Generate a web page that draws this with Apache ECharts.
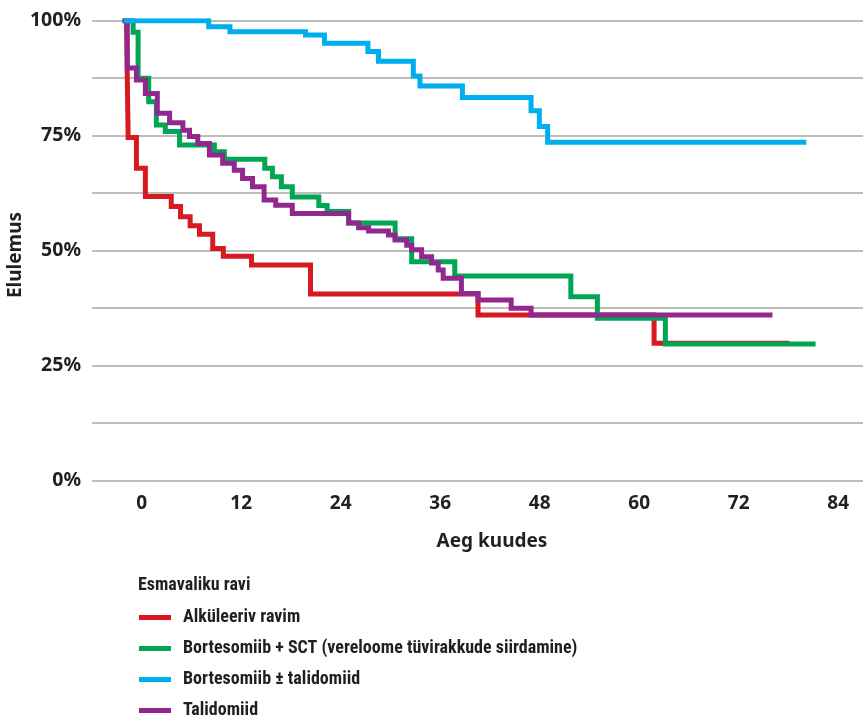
<!DOCTYPE html>
<html>
<head>
<meta charset="utf-8">
<script src="https://cdn.jsdelivr.net/npm/echarts@6/dist/echarts.min.js"></script>
<style>
html,body{margin:0;padding:0;background:#fff;}
#chart{width:866px;height:720px;}
</style>
</head>
<body>
<div id="chart"></div>
<script>
// ---- data (months, survival %) ----
const seriesNames = [
  'Alküleeriv ravim',
  'Bortesomiib + SCT (vereloome tüvirakkude siirdamine)',
  'Bortesomiib ± talidomiid',
  'Talidomiid'
];
const redMonths = [-1.84, -1.64, -0.64, 0.44, 3.56, 4.68, 5.84, 6.96, 8.56, 9.84, 13.24, 20.36, 40.56, 61.8, 78.12];
const redSurv   = [100, 74.6, 67.9, 61.8, 59.6, 57.4, 55.4, 53.6, 50.5, 48.8, 46.9, 40.6, 36.0, 29.9, 29.9];

const greenMonths = [-2.3, -1.04, -0.44, 0.84, 1.76, 2.84, 4.56, 8.76, 9.96, 14.84, 15.76, 16.84, 18.16, 21.36, 22.36, 24.96, 30.56, 32.56, 37.76, 51.76, 54.96, 63.16, 81.28];
const greenSurv   = [100, 97.5, 87.5, 82.4, 77.3, 75.9, 73.0, 71.5, 69.9, 67.9, 66.1, 63.9, 61.7, 59.8, 58.5, 56.0, 52.6, 47.6, 44.5, 40.0, 35.3, 29.7, 29.7];

const blueMonths = [-2.16, 8.08, 10.64, 19.76, 22.04, 27.28, 28.56, 32.76, 33.56, 38.68, 46.96, 47.96, 48.96, 80.16];
const blueSurv   = [100, 98.7, 97.6, 96.9, 95.1, 93.3, 91.2, 88.0, 85.8, 83.3, 80.4, 77.0, 73.6, 73.6];

const purpleMonths = [-2.32, -1.74, -0.64, 0.44, 1.88, 3.36, 4.96, 5.76, 6.76, 8.16, 9.76, 11.16, 12.16, 13.36, 14.76, 16.16, 18.16, 24.96, 26.16, 27.36, 29.76, 30.56, 31.96, 32.56, 33.76, 34.96, 35.76, 36.36, 38.56, 40.56, 44.56, 46.96, 76.08];
const purpleSurv   = [100, 89.7, 87.1, 84.2, 79.9, 77.8, 76.2, 74.8, 73.3, 70.8, 69.0, 67.5, 65.7, 63.9, 61.0, 59.9, 58.1, 56.0, 55.0, 54.3, 53.4, 52.3, 51.2, 50.2, 48.7, 47.3, 45.8, 44.0, 40.7, 39.3, 37.5, 36.0, 36.0];

const xTickLabels = [0, 12, 24, 36, 48, 60, 72, 84];
const yTickLabels = [0, 25, 50, 75, 100];
const legendTitle = 'Esmavaliku ravi';
const xAxisTitle = 'Aeg kuudes';
const yAxisTitle = 'Elulemus';

// ---- styling ----
const colors = ['#d71920', '#00a651', '#00aeef', '#92278f'];
const zOrder = [2, 3, 5, 4];
const textColor = '#231f20';

function hasFont(name) {
  const c = document.createElement('canvas').getContext('2d');
  const s = 'Bortesomiib mmm WWW iii';
  c.font = 'bold 40px monospace';
  const w1 = c.measureText(s).width;
  c.font = 'bold 40px "' + name + '", monospace';
  const w2 = c.measureText(s).width;
  return Math.abs(w1 - w2) > 0.5;
}
let legendFamily = '"Noto Sans", sans-serif';
let legendSize = 15.2;
if (hasFont('Liberation Sans Narrow')) { legendFamily = '"Liberation Sans Narrow", sans-serif'; legendSize = 18.5; }
else if (hasFont('Roboto Condensed')) { legendFamily = '"Roboto Condensed", sans-serif'; legendSize = 18; }
const axisFamily = '"Noto Sans", sans-serif';

function pairs(xs, ys) { return xs.map((x, i) => [x, ys[i]]); }
const allData = [
  pairs(redMonths, redSurv),
  pairs(greenMonths, greenSurv),
  pairs(blueMonths, blueSurv),
  pairs(purpleMonths, purpleSurv)
];

const chart = echarts.init(document.getElementById('chart'), null, {renderer: 'canvas'});
chart.setOption({
  animation: false,
  backgroundColor: '#ffffff',
  grid: {left: 92, right: 0, top: 20.7, bottom: 239.3, containLabel: false},
  xAxis: {
    type: 'value', min: -6, max: 87, interval: 6,
    axisLine: {show: false}, axisTick: {show: false}, splitLine: {show: false},
    axisLabel: {
      margin: 13, color: textColor, fontFamily: axisFamily, fontWeight: 'bold', fontSize: 19,
      showMinLabel: true, showMaxLabel: true,
      formatter: v => xTickLabels.indexOf(v) >= 0 ? String(v) : ''
    }
  },
  yAxis: {
    type: 'value', min: 0, max: 100, interval: 12.5,
    axisLine: {show: false}, axisTick: {show: false},
    splitLine: {show: true, lineStyle: {color: '#a7a7a7', width: 1.6}},
    axisLabel: {
      margin: 11, color: textColor, fontFamily: axisFamily, fontWeight: 'bold', fontSize: 19.5,
      formatter: v => yTickLabels.indexOf(v) >= 0 ? v + '%' : ''
    }
  },
  legend: {
    data: seriesNames,
    orient: 'vertical',
    left: 139, top: 608.5, height: 111.5,
    padding: 0,
    icon: 'rect', itemWidth: 32, itemHeight: 5, itemGap: 13,
    selectedMode: false,
    textStyle: {color: textColor, fontFamily: legendFamily, fontWeight: 'bold', fontSize: legendSize, lineHeight: 18, padding: [0, 0, 0, 7]}
  },
  graphic: [
    {type: 'text', x: 492, y: 542, style: {text: xAxisTitle, fill: textColor, font: 'bold 19px ' + axisFamily, textAlign: 'center', textVerticalAlign: 'middle'}},
    {type: 'text', x: 16, y: 255, rotation: Math.PI / 2, style: {text: yAxisTitle, fill: textColor, font: 'bold 19px ' + axisFamily, textAlign: 'center', textVerticalAlign: 'middle'}},
    {type: 'text', x: 138, y: 585, style: {text: legendTitle, fill: textColor, font: 'bold ' + legendSize + 'px ' + legendFamily, textAlign: 'left', textVerticalAlign: 'middle'}}
  ],
  series: seriesNames.map((name, i) => ({
    name: name,
    type: 'line',
    step: 'end',
    data: allData[i],
    showSymbol: false,
    symbol: 'none',
    z: zOrder[i],
    color: colors[i],
    lineStyle: {color: colors[i], width: 5, cap: 'butt', join: 'miter'},
    itemStyle: {color: colors[i]},
    emphasis: {disabled: true}
  }))
});
</script>
</body>
</html>
